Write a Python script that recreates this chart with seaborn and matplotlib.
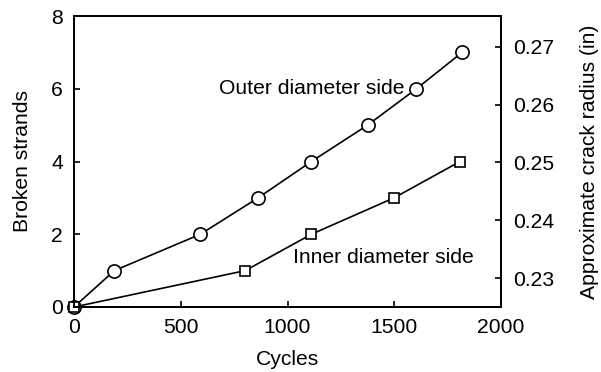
import matplotlib
matplotlib.use("Agg")
import matplotlib.pyplot as plt
import seaborn as sns
import pandas as pd

outer_cycles = [0, 189, 592, 862, 1112, 1375, 1604, 1818]
outer_strands = [0, 1, 2, 3, 4, 5, 6, 7]
inner_cycles = [0, 802, 1112, 1499, 1808]
inner_strands = [0, 1, 2, 3, 4]
right_ticks = [0.23, 0.24, 0.25, 0.26, 0.27]
x_ticks = [0, 500, 1000, 1500, 2000]
y_ticks = [0, 2, 4, 6, 8]

sns.set_style("ticks")
plt.rcParams['font.family'] = ['Liberation Sans', 'DejaVu Sans']
plt.rcParams['text.color'] = 'black'
plt.rcParams['axes.labelcolor'] = 'black'
plt.rcParams['xtick.color'] = 'black'
plt.rcParams['ytick.color'] = 'black'
fs = 15.2

fig = plt.figure(figsize=(6.01, 3.72), dpi=100)
ax = fig.add_axes([74/601, 1-307/372, (501-74)/601, (307-16)/372])

outer = pd.DataFrame({"Cycles": outer_cycles, "Broken strands": outer_strands})
inner = pd.DataFrame({"Cycles": inner_cycles, "Broken strands": inner_strands})

sns.lineplot(data=outer, x="Cycles", y="Broken strands", ax=ax, color="black",
             lw=1.2, marker="o", markersize=9.5, markerfacecolor="white",
             markeredgecolor="black", markeredgewidth=1.2, zorder=3, clip_on=False)
sns.lineplot(data=inner, x="Cycles", y="Broken strands", ax=ax, color="black",
             lw=1.2, marker="s", markersize=7.5, markerfacecolor="white",
             markeredgecolor="black", markeredgewidth=1.2, zorder=4, clip_on=False)

ax.set_xlim(0, 2000)
ax.set_ylim(0, 8)
ax.set_xticks(x_ticks)
ax.set_yticks(y_ticks)
ax.tick_params(direction="in", length=4, width=1.2, labelsize=fs, pad=8)
ax.set_xlabel("Cycles", fontsize=fs, labelpad=9)
ax.set_ylabel("Broken strands", fontsize=fs, labelpad=14)
for s in ax.spines.values():
    s.set_linewidth(1.4)
    s.set_color("black")

ax.text(1548, 6, "Outer diameter side", fontsize=fs, ha="right", va="center")
ax.text(1026, 1.35, "Inner diameter side", fontsize=fs, ha="left", va="center")

ax2 = ax.twinx()
ax2.set_ylim(0.22504, 0.2753)
ax2.set_yticks(right_ticks)
ax2.set_yticklabels([f"{t:.2f}" for t in right_ticks])
ax2.tick_params(direction="in", length=4, width=1.2, labelsize=fs, pad=9)
ax2.set_ylabel("Approximate crack radius (in)", fontsize=fs, labelpad=18)
for s in ax2.spines.values():
    s.set_linewidth(1.4)
    s.set_color("black")

fig.savefig("out.png", dpi=100)
